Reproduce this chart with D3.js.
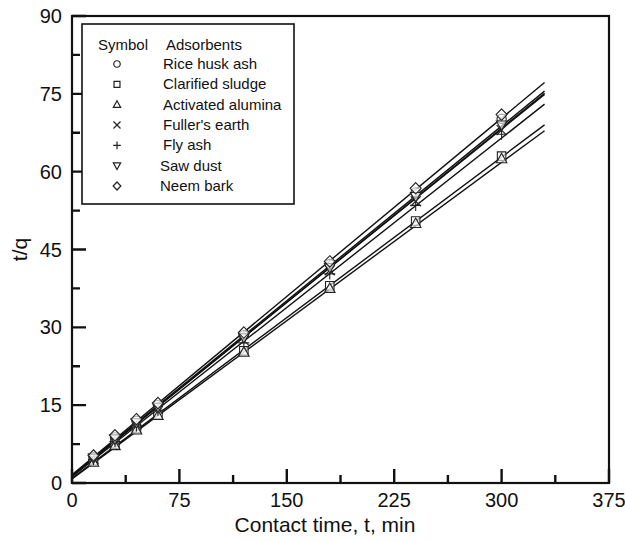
<!DOCTYPE html>
<html>
<head>
<meta charset="utf-8">
<script src="https://cdn.jsdelivr.net/npm/d3@7"></script>
<style>
  body { margin: 0; background: #fff; }
  text { font-family: "Liberation Sans", Arial, sans-serif; fill: #111; }
</style>
</head>
<body>
<div id="chart"></div>
<script>
// contact times (min)
const times = [15, 30, 45, 60, 120, 180, 240, 300];

const adsorbents = ["Rice husk ash", "Clarified sludge", "Activated alumina", "Fuller's earth", "Fly ash", "Saw dust", "Neem bark"];
const symbols = ["circle", "square", "triangle", "cross", "plus", "triangleDown", "diamond"];

// t/q readings
const riceHusk   = [5.0, 8.8, 12.0, 15.0, 28.5, 42.2, 56.0, 70.2];
const sludge     = [4.3, 7.5, 10.5, 13.2, 25.5, 38.0, 50.5, 63.0];
const alumina    = [4.0, 7.2, 10.2, 13.0, 25.2, 37.5, 50.0, 62.5];
const fullers    = [4.7, 8.3, 11.3, 14.3, 27.5, 41.0, 54.3, 68.0];
const flyAsh     = [4.5, 8.0, 11.0, 14.0, 27.0, 40.3, 53.5, 67.2];
const sawDust    = [4.8, 8.5, 11.6, 14.6, 28.0, 41.5, 55.2, 69.0];
const neemBark   = [5.3, 9.2, 12.3, 15.4, 29.0, 42.7, 56.8, 71.0];
const seriesData = [riceHusk, sludge, alumina, fullers, flyAsh, sawDust, neemBark];

// fitted lines (pseudo second order), same order as adsorbents
const fitSlopes     = [0.2243, 0.2064, 0.2033, 0.2236, 0.2176, 0.2227, 0.2290];
const fitIntercepts = [1.5, 0.9, 0.8, 1.3, 1.2, 1.4, 1.6];
const fitRange = [0, 330];

const xTicks = [0, 75, 150, 225, 300, 375];
const yTicks = [0, 15, 30, 45, 60, 75, 90];

const width = 625, height = 541;
const margin = {top: 16, right: 16, bottom: 58, left: 72};

const svg = d3.select("#chart").append("svg")
    .attr("width", width)
    .attr("height", height);

const x = d3.scaleLinear().domain([0, 375]).range([margin.left, width - margin.right]);
const y = d3.scaleLinear().domain([0, 90]).range([height - margin.bottom, margin.top]);

// fitted lines
svg.append("g").selectAll("line")
    .data(adsorbents)
    .enter().append("line")
    .attr("x1", (d, i) => x(fitRange[0]))
    .attr("y1", (d, i) => y(fitIntercepts[i] + fitSlopes[i] * fitRange[0]))
    .attr("x2", (d, i) => x(fitRange[1]))
    .attr("y2", (d, i) => y(fitIntercepts[i] + fitSlopes[i] * fitRange[1]))
    .attr("stroke", "#111")
    .attr("stroke-width", 1.4);

// marker path for a symbol centred at 0,0
function markerPath(type, s) {
    const h = s / 2;
    switch (type) {
        case "circle":
            return d3.symbol(d3.symbolCircle, Math.PI * h * h * 0.85)();
        case "square":
            return `M${-h*0.85},${-h*0.85}H${h*0.85}V${h*0.85}H${-h*0.85}Z`;
        case "triangle":
            return `M0,${-h*1.1}L${h*1.05},${h*0.8}L${-h*1.05},${h*0.8}Z`;
        case "triangleDown":
            return `M0,${h*1.1}L${h*1.05},${-h*0.8}L${-h*1.05},${-h*0.8}Z`;
        case "cross":
            return `M${-h},${-h}L${h},${h}M${h},${-h}L${-h},${h}`;
        case "plus":
            return `M${-h*1.1},0H${h*1.1}M0,${-h*1.1}V${h*1.1}`;
        case "diamond":
            return `M0,${-h*1.15}L${h*1.1},0L0,${h*1.15}L${-h*1.1},0Z`;
    }
}

// data points
seriesData.forEach((vals, i) => {
    svg.append("g").selectAll("path")
        .data(vals)
        .enter().append("path")
        .attr("d", markerPath(symbols[i], 10))
        .attr("transform", (d, j) => `translate(${x(times[j])},${y(d)})`)
        .attr("fill", "#fff")
        .attr("fill-opacity", 0.6)
        .attr("stroke", "#222")
        .attr("stroke-width", 1.1);
});

// frame
svg.append("rect")
    .attr("x", x(0))
    .attr("y", y(90))
    .attr("width", x(375) - x(0))
    .attr("height", y(0) - y(90))
    .attr("fill", "none")
    .attr("stroke", "#111")
    .attr("stroke-width", 2.2);

// inward ticks, major and minor, as one path
const xMinor = d3.range(37.5, 375, 75);
const yMinor = d3.range(7.5, 90, 15);
let tickD = "";
xTicks.forEach(v => { tickD += `M${x(v)},${y(0)}v-14`; });
xMinor.forEach(v => { tickD += `M${x(v)},${y(0)}v-8`; });
yTicks.forEach(v => { tickD += `M${x(0)},${y(v)}h14`; });
yMinor.forEach(v => { tickD += `M${x(0)},${y(v)}h8`; });
svg.append("path")
    .attr("d", tickD)
    .attr("fill", "none")
    .attr("stroke", "#111")
    .attr("stroke-width", 2.4);

// tick labels
svg.append("g").selectAll("text")
    .data(xTicks)
    .enter().append("text")
    .attr("x", d => x(d))
    .attr("y", y(0) + 24)
    .attr("text-anchor", "middle")
    .attr("font-size", 20)
    .text(d => d);

svg.append("g").selectAll("text")
    .data(yTicks)
    .enter().append("text")
    .attr("x", x(0) - 10)
    .attr("y", d => y(d) + 7)
    .attr("text-anchor", "end")
    .attr("font-size", 20)
    .text(d => d);

// axis titles
svg.append("text")
    .attr("x", 325)
    .attr("y", 532)
    .attr("text-anchor", "middle")
    .attr("font-size", 21)
    .text("Contact time, t, min");

svg.append("text")
    .attr("transform", `translate(27,${(y(0) + y(90)) / 2}) rotate(-90)`)
    .attr("text-anchor", "middle")
    .attr("font-size", 21)
    .text("t/q");

// legend
const legend = svg.append("g");
legend.append("rect")
    .attr("x", 82).attr("y", 24)
    .attr("width", 212).attr("height", 180)
    .attr("fill", "#fff")
    .attr("stroke", "#111")
    .attr("stroke-width", 1.6);

legend.append("text").attr("x", 98).attr("y", 50).attr("font-size", 15).text("Symbol");
legend.append("text").attr("x", 166).attr("y", 50).attr("font-size", 15).text("Adsorbents");

const rowY = d3.scaleLinear().domain([0, 6]).range([64, 186]);
adsorbents.forEach((name, i) => {
    legend.append("path")
        .attr("d", markerPath(symbols[i], 7))
        .attr("transform", `translate(117,${rowY(i)})`)
        .attr("fill", "none")
        .attr("stroke", "#222")
        .attr("stroke-width", 1.2);
    legend.append("text")
        .attr("x", i >= 5 ? 160 : 163)
        .attr("y", rowY(i) + 5)
        .attr("font-size", 15)
        .text(name);
});
</script>
</body>
</html>
